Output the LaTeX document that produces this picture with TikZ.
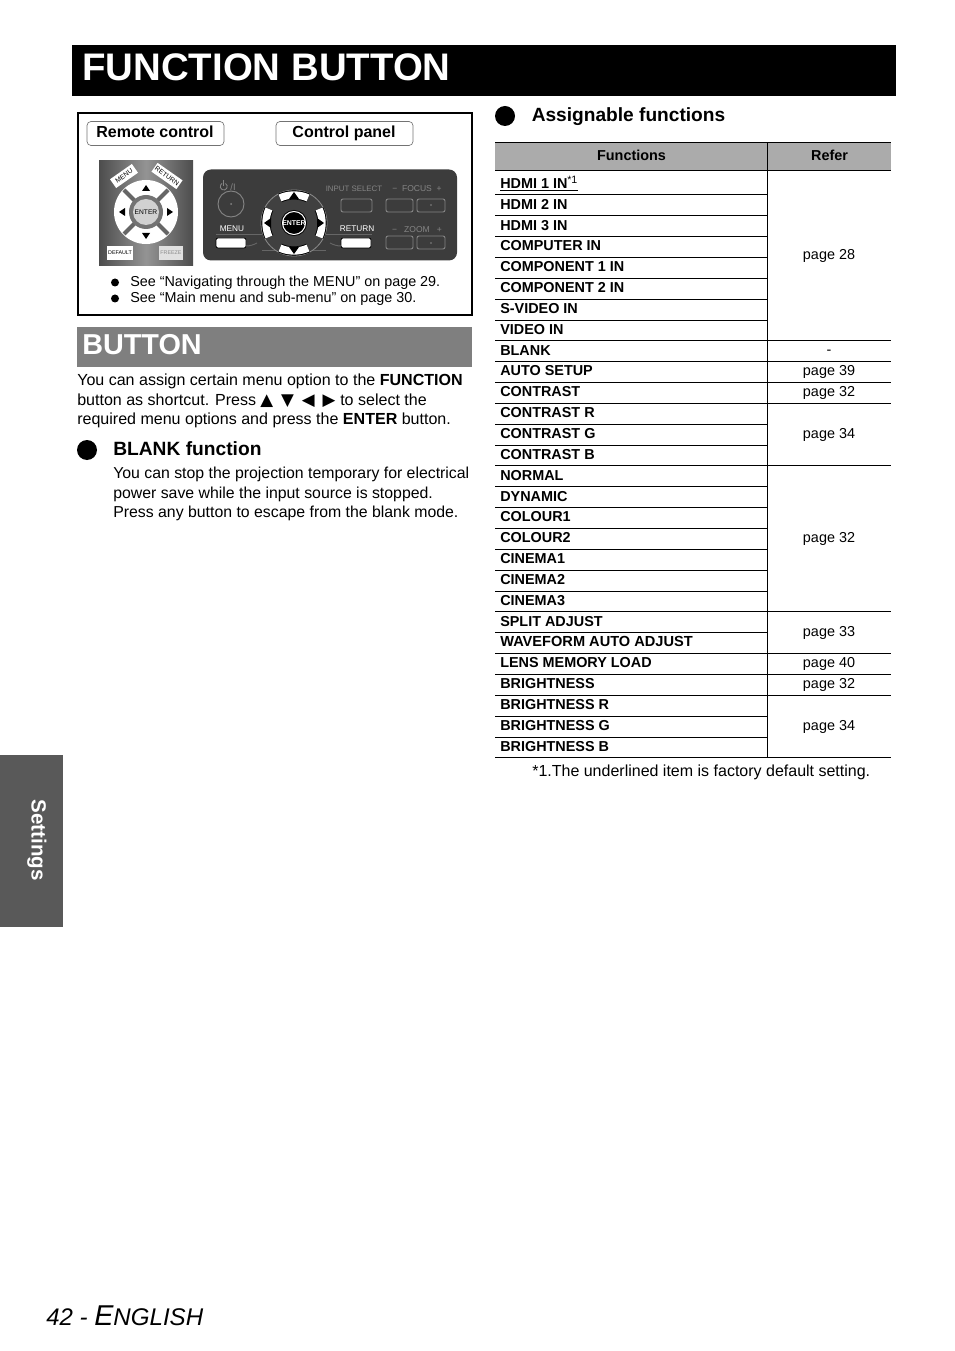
\documentclass[tikz,border=0pt]{standalone}
\usepackage{fontspec}
\setmainfont{Liberation Sans}
\newfontfamily\symfont{DejaVu Sans}
\newcommand{\fsize}[1]{\fontsize{#1}{#1}\selectfont}
\definecolor{bandgray}{HTML}{7F7F7F}
\definecolor{headgray}{HTML}{ABABAB}
\definecolor{tabgray}{HTML}{595959}
\definecolor{paneldark}{HTML}{3C3C3C}
\definecolor{panelfaint}{HTML}{858585}
\tikzset{
  body/.style={anchor=base west,inner sep=0pt,font=\fsize{12.03}},
  rowname/.style={anchor=base west,inner sep=0pt,font=\fsize{10.8}\bfseries},
  rowpage/.style={anchor=center,inner sep=0pt,font=\fsize{10.8}},
  rowline/.style={line width=0.75pt},
  tagbox/.style={draw=black!55,rounded corners=3pt,line width=0.5pt},
  keytag/.style={fill=white,inner sep=1pt,minimum width=20pt,minimum height=8pt,font=\fsize{5}},
  faintkey/.style={draw=panelfaint,rounded corners=1.5pt,line width=0.7pt},
  whitekey/.style={draw=black,fill=white,rounded corners=1.5pt,line width=0.6pt},
  facetext/.style={inner sep=0pt,text=panelfaint,font=\fsize{5.9}},
  padkey/.style={double=white,draw=black,double distance=5.5pt,line width=0.7pt},
  dot/.style={fill=black,circle,inner sep=0pt}
}
\begin{document}
\begin{tikzpicture}[x=0.75pt,y=0.75pt,yscale=-1,xscale=1]
\useasboundingbox (0,0) rectangle (954,1351);

%Title band
\fill [black] (72,45) rectangle (896,96);
\node (titletext) [anchor=base west,inner sep=0pt,text=white,font=\fsize{28.8}\bfseries] at (82,80.5) {FUNCTION BUTTON};

%Frame with the two pictures
\draw [line width=1.5pt] (78,113) rectangle (472,315);
\draw [tagbox] (87,121.5) rectangle (224,145.5);
\node (remotetag) [anchor=base,inner sep=0pt,font=\fsize{12}\bfseries] at (155,138) {Remote control};
\draw [tagbox] (276,121.5) rectangle (413,145.5);
\node (paneltag) [anchor=base,inner sep=0pt,font=\fsize{12}\bfseries] at (344,138) {Control panel};

%Remote control picture
\shade [left color=black!70,right color=black!70,middle color=black!42] (99,160.5) rectangle (193,265.5);
\fill [white] (146,212) circle (32);
\draw [black!60,line width=3pt] (124,190) -- (168,234) (168,190) -- (124,234);
\fill [black!55] (146,212) circle (17);
\fill [black!18] (146,212) circle (13);
\node (remoteenter) [inner sep=0pt,font=\fsize{5}] at (146,212) {ENTER};
\fill (146,185) -- (142,191) -- (150,191) -- cycle;
\fill (146,239) -- (142,233) -- (150,233) -- cycle;
\fill (119,212) -- (125,208) -- (125,216) -- cycle;
\fill (173,212) -- (167,208) -- (167,216) -- cycle;
\node (remotemenu) [keytag,rotate=35] at (124,176) {MENU};
\node (remotereturn) [keytag,rotate=-35] at (167,176) {RETURN};
\node (remotedefault) [keytag,minimum width=15pt,minimum height=10pt,font=\fsize{4}] at (120,253) {DEFAULT};
\node (remotefreeze) [keytag,minimum width=15pt,minimum height=10pt,fill=black!12,text=black!45,font=\fsize{4}] at (171,253) {FREEZE};

%Control panel picture
\fill [paneldark,rounded corners=6pt] (203,169.5) rectangle (457,260.5);
\draw [panelfaint,line width=0.6pt] (225.5,183.5) arc (-60:240:3.5);
\draw [panelfaint,line width=0.6pt] (223.7,180) -- (223.7,186);
\node (panelpower) [facetext,font=\fsize{7}] at (233,187) {/I};
\draw [panelfaint,line width=0.7pt] (231,204) circle (13);
\fill [panelfaint] (231,204) circle (1);
\node (panelinput) [facetext] at (354,189) {INPUT SELECT};
\draw [faintkey] (341,199) rectangle (372,212);
\node (panelfocus) [facetext,font=\fsize{6.4}] at (417,189) {−\ \ FOCUS\ \ +};
\draw [faintkey] (386,199) rectangle (413,212);
\draw [faintkey] (417,199) rectangle (445,212);
\fill [panelfaint] (431,205) circle (0.8);
\node (panelzoom) [facetext,font=\fsize{6.4}] at (417,230) {−\ \ \ ZOOM\ \ \ +};
\draw [faintkey] (386,236) rectangle (413,249);
\draw [faintkey] (417,236) rectangle (445,249);
\fill [panelfaint] (431,243) circle (0.8);
\draw [black!60,line width=0.7pt] (216,234) -- (262,234) (326,234) -- (372,234) (262,250) -- (326,250);
\node (panelmenu) [facetext,text=white,font=\fsize{6.2}] at (232,229) {MENU};
\draw [whitekey] (216,238) rectangle (246,248);
\node (panelreturn) [facetext,text=white,font=\fsize{6.2}] at (357,229) {RETURN};
\draw [whitekey] (341,238) rectangle (371,248);
\draw [black!60,line width=0.7pt] (246,246) .. controls (250,246) and (253,245) .. (257,243);
\draw [black!60,line width=0.7pt] (341,246) .. controls (337,246) and (334,245) .. (330,243);
\fill [black!75] (294,223) circle (33);
\draw [black!45,line width=0.6pt] (294,223) circle (33);
\draw [padkey] (280,198) .. controls (288,194) and (300,194) .. (308,198);
\draw [padkey] (280,248) .. controls (288,252) and (300,252) .. (308,248);
\draw [padkey] (269,209) .. controls (265,217) and (265,229) .. (269,237);
\draw [padkey] (319,209) .. controls (323,217) and (323,229) .. (319,237);
\fill (294,192) -- (289,199) -- (299,199) -- cycle;
\fill (294,254) -- (289,247) -- (299,247) -- cycle;
\fill (264,223) -- (271,218) -- (271,228) -- cycle;
\fill (324,223) -- (317,218) -- (317,228) -- cycle;
\fill [black] (294,223) circle (13);
\draw [white,line width=0.8pt] (294,223) circle (11.5);
\node (panelenter) [inner sep=0pt,text=white,font=\fsize{5.2}\bfseries] at (294,223) {ENTER};

%Frame notes
\node (notedota) [dot,minimum size=6pt] at (115,282.5) {};
\node (notea) [body,font=\fsize{10.78}] at (130,286.5) {See “Navigating through the MENU” on page 29.};
\node (notedotb) [dot,minimum size=6pt] at (115,298.5) {};
\node (noteb) [body,font=\fsize{10.78}] at (130,303) {See “Main menu and sub-menu” on page 30.};

%Button heading
\fill [bandgray] (77,327) rectangle (472,367);
\node (buttontext) [anchor=base west,inner sep=0pt,text=white,font=\fsize{21.6}\bfseries] at (82,355) {BUTTON};

%Left column text
\node (bodya) [body] at (77,385) {You can assign certain menu option to the \textbf{FUNCTION}};
\node (bodyb) [body] at (77,405) {button as shortcut. Press};
\node (bodysyms) [anchor=base west,inner sep=0pt,font=\symfont\fsize{12.5}] at (260,405) {▲\hspace{6pt}▼\hspace{6pt}◀\hspace{6pt}▶};
\node (bodyd) [body] at (340,405) {to select the};
\node (bodyc) [body] at (77,424) {required menu options and press the \textbf{ENTER} button.};
\node (blankdot) [dot,minimum size=15pt] at (87,450) {};
\node (blankhead) [anchor=base west,inner sep=0pt,font=\fsize{14.4}\bfseries] at (113,455) {BLANK function};
\node (blanka) [body,font=\fsize{11.88}] at (113,478) {You can stop the projection temporary for electrical};
\node (blankb) [body,font=\fsize{11.88}] at (113,498) {power save while the input source is stopped.};
\node (blankc) [body,font=\fsize{11.88}] at (113,517) {Press any button to escape from the blank mode.};

%Right column heading
\node (assigndot) [dot,minimum size=15pt] at (505,116) {};
\node (assignhead) [anchor=base west,inner sep=0pt,font=\fsize{14.35}\bfseries] at (531.5,121.5) {Assignable functions};

%Table head
\fill [headgray] (495,142.5) rectangle (891,170.5);
\draw [rowline] (495,142.5) -- (891,142.5);
\draw [rowline] (495,170.5) -- (891,170.5);
\draw [rowline] (767.5,142.5) -- (767.5,757.5);
\node (headfunctions) [rowpage,font=\fsize{10.8}\bfseries] at (631.5,155.5) {Functions};
\node (headrefer) [rowpage,font=\fsize{10.8}\bfseries] at (829.5,155.5) {Refer};

%Table rules
\draw [rowline] (495,194.5) -- (767,194.5);
\draw [rowline] (495,215.5) -- (767,215.5);
\draw [rowline] (495,236.5) -- (767,236.5);
\draw [rowline] (495,257.5) -- (767,257.5);
\draw [rowline] (495,278.5) -- (767,278.5);
\draw [rowline] (495,299.5) -- (767,299.5);
\draw [rowline] (495,320.5) -- (767,320.5);
\draw [rowline] (495,340.5) -- (891,340.5);
\draw [rowline] (495,361.5) -- (891,361.5);
\draw [rowline] (495,382.5) -- (891,382.5);
\draw [rowline] (495,403.5) -- (891,403.5);
\draw [rowline] (495,424.5) -- (767,424.5);
\draw [rowline] (495,445.5) -- (767,445.5);
\draw [rowline] (495,465.5) -- (891,465.5);
\draw [rowline] (495,486.5) -- (767,486.5);
\draw [rowline] (495,507.5) -- (767,507.5);
\draw [rowline] (495,528.5) -- (767,528.5);
\draw [rowline] (495,549.5) -- (767,549.5);
\draw [rowline] (495,570.5) -- (767,570.5);
\draw [rowline] (495,591.5) -- (767,591.5);
\draw [rowline] (495,611.5) -- (891,611.5);
\draw [rowline] (495,632.5) -- (767,632.5);
\draw [rowline] (495,653.5) -- (891,653.5);
\draw [rowline] (495,674.5) -- (891,674.5);
\draw [rowline] (495,695.5) -- (891,695.5);
\draw [rowline] (495,716.5) -- (767,716.5);
\draw [rowline] (495,737.5) -- (767,737.5);
\draw [rowline] (495,757.5) -- (891,757.5);

%Table rows
\node (rowhdmia) [rowname] at (500,189) {HDMI 1 IN};
\draw [line width=0.75pt] (500,190.5) -- (578,190.5);
\node (rowstar) [anchor=base west,inner sep=0pt,font=\fsize{8}] at (567,184) {*1};
\node (rowhdmib) [rowname] at (500,210) {HDMI 2 IN};
\node (rowhdmic) [rowname] at (500,231) {HDMI 3 IN};
\node (rowcomputer) [rowname] at (500,251) {COMPUTER IN};
\node (rowcompa) [rowname] at (500,272) {COMPONENT 1 IN};
\node (rowcompb) [rowname] at (500,293) {COMPONENT 2 IN};
\node (rowsvideo) [rowname] at (500,314) {S-VIDEO IN};
\node (rowvideo) [rowname] at (500,335) {VIDEO IN};
\node (rowblank) [rowname] at (500,355.5) {BLANK};
\node (rowauto) [rowname] at (500,375.5) {AUTO SETUP};
\node (rowcontrast) [rowname] at (500,396.5) {CONTRAST};
\node (rowcontrastr) [rowname] at (500,417.5) {CONTRAST R};
\node (rowcontrastg) [rowname] at (500,438.5) {CONTRAST G};
\node (rowcontrastb) [rowname] at (500,459.5) {CONTRAST B};
\node (rownormal) [rowname] at (500,480) {NORMAL};
\node (rowdynamic) [rowname] at (500,501) {DYNAMIC};
\node (rowcoloura) [rowname] at (500,521) {COLOUR1};
\node (rowcolourb) [rowname] at (500,542) {COLOUR2};
\node (rowcinemaa) [rowname] at (500,563) {CINEMA1};
\node (rowcinemab) [rowname] at (500,584) {CINEMA2};
\node (rowcinemac) [rowname] at (500,605) {CINEMA3};
\node (rowsplit) [rowname] at (500,626) {SPLIT ADJUST};
\node (rowwaveform) [rowname,font=\fsize{10.95}\bfseries] at (500,646) {WAVEFORM AUTO ADJUST};
\node (rowlens) [rowname] at (500,667) {LENS MEMORY LOAD};
\node (rowbright) [rowname] at (500,688) {BRIGHTNESS};
\node (rowbrightr) [rowname] at (500,709) {BRIGHTNESS R};
\node (rowbrightg) [rowname] at (500,730) {BRIGHTNESS G};
\node (rowbrightb) [rowname] at (500,751) {BRIGHTNESS B};

%Refer column
\node (pagehdmi) [rowpage] at (829,256) {page 28};
\node (pageblank) [rowpage] at (829,352) {-};
\node (pageauto) [rowpage] at (829,372) {page 39};
\node (pagecontrast) [rowpage] at (829,393) {page 32};
\node (pagergb) [rowpage] at (829,435) {page 34};
\node (pagenormal) [rowpage] at (829,539) {page 32};
\node (pagesplit) [rowpage] at (829,633) {page 33};
\node (pagelens) [rowpage] at (829,664) {page 40};
\node (pagebright) [rowpage] at (829,685) {page 32};
\node (pagebrgb) [rowpage] at (829,727) {page 34};
\node (footnote) [body,font=\fsize{12}] at (532,776.5) {*1.The underlined item is factory default setting.};

%Side tab and page number
\fill [tabgray] (0,755) rectangle (63,927);
\node (settingstab) [inner sep=0pt,rotate=-90,text=white,font=\fsize{15.4}\bfseries] at (37,840) {Settings};
\node (pagenumber) [anchor=base west,inner sep=0pt,font=\fsize{18}\itshape] at (46,1325) {42 - {\fsize{21.5}E}{\fsize{18.1}NGLISH}};

\end{tikzpicture}
\end{document}
